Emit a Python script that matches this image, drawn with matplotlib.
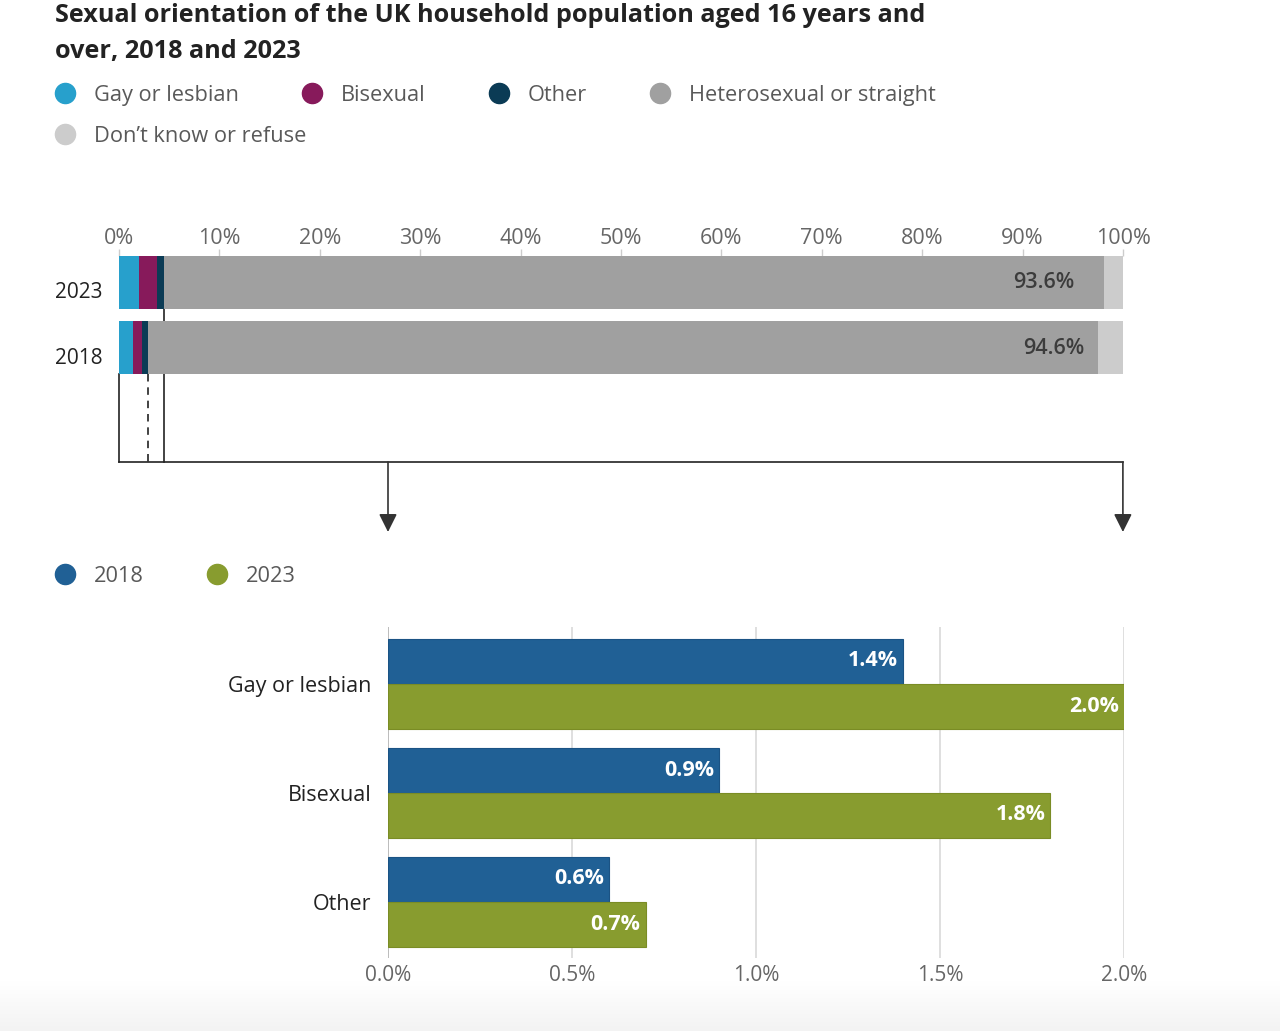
import numpy as np
import matplotlib
matplotlib.use("Agg")
import matplotlib.pyplot as plt
from matplotlib.lines import Line2D
from matplotlib.transforms import blended_transform_factory, ScaledTranslation

plt.rcParams['font.family'] = ['Open Sans', 'DejaVu Sans']

# ---------------- data ----------------
title = "Sexual orientation of the UK household population aged 16 years and\nover, 2018 and 2023"
stack_years = ["2023", "2018"]
orient_cats = ["Gay or lesbian", "Bisexual", "Other", "Heterosexual or straight", "Don\u2019t know or refuse"]
gay = [2.0, 1.4]
bisexual = [1.8, 0.9]
other = [0.7, 0.6]
hetero = [93.6, 94.6]
dont_know = [1.9, 2.5]
top_ticks = [0, 10, 20, 30, 40, 50, 60, 70, 80, 90, 100]

detail_cats = ["Gay or lesbian", "Bisexual", "Other"]
vals_2018 = [1.4, 0.9, 0.6]
vals_2023 = [2.0, 1.8, 0.7]
detail_ticks = [0.0, 0.5, 1.0, 1.5, 2.0]

orient_colors = ["#27a0cc", "#871a5b", "#0b3b55", "#a0a0a0", "#cccccc"]
c2018 = "#206095"
c2023 = "#889c2f"

W, H = 1280, 1031
fig = plt.figure(figsize=(W / 100, H / 100), dpi=100)

def fx(x):
    return x / W

def fy(y):
    return 1 - y / H

# bottom gradient strip
gax = fig.add_axes([0, 0, 1, 50 / H])
grad = np.linspace(0, 1, 60).reshape(-1, 1)
gax.imshow(grad, aspect='auto',
           cmap=matplotlib.colors.LinearSegmentedColormap.from_list('g', ['#ffffff', '#f3f3f3']),
           extent=[0, 1, 0, 1])
gax.axis('off')

# title
lines = title.split("\n")
fig.text(fx(55), fy(15), lines[0], fontsize=18.2, fontweight='bold', color='#222222', va='center', ha='left')
fig.text(fx(55), fy(52), lines[1], fontsize=18.2, fontweight='bold', color='#222222', va='center', ha='left')

renderer = fig.canvas.get_renderer()

def legend_rows(rows, x0, ys, gap=73, txt_off=29):
    for row, y in zip(rows, ys):
        x = x0
        for label, color in row:
            fig.add_artist(Line2D([fx(x)], [fy(y)], marker='o', ms=14.5, color=color, lw=0,
                                  transform=fig.transFigure))
            t = fig.text(fx(x + txt_off), fy(y), label, fontsize=15.7, color='#595959',
                         va='center_baseline', ha='left')
            bb = t.get_window_extent(renderer)
            x = x + txt_off + bb.width + gap

items = list(zip(orient_cats, orient_colors))
legend_rows([items[:4], items[4:]], 65, [93, 134])

# ---------------- top stacked chart ----------------
ax1 = fig.add_axes([fx(119), fy(462), (1123 - 119) / W, (462 - 256) / H])
pitch = 65.0
bh = 53 / pitch
ypos = np.arange(len(stack_years))
top_edge = -bh / 2
ax1.set_ylim(top_edge + (462 - 256) / pitch, top_edge)
ax1.set_xlim(0, 100)

left = np.zeros(len(stack_years))
for series, color in zip([gay, bisexual, other, hetero, dont_know], orient_colors):
    ax1.barh(ypos, series, left=left, height=bh, color=color, zorder=3, linewidth=0)
    left = left + np.array(series)

for i, v in enumerate(hetero):
    ax1.annotate(f"{v}%", xy=(v, ypos[i]), xytext=(16, 2), textcoords='offset pixels',
                 ha='right', va='center_baseline', fontsize=15.5, fontweight='semibold',
                 color='#3c3c3c', zorder=5)

for s in ax1.spines.values():
    s.set_visible(False)
ax1.xaxis.tick_top()
ax1.set_xticks(top_ticks)
ax1.set_xticklabels([f"{t}%" for t in top_ticks])
ax1.tick_params(axis='x', length=5, width=1, color='#cccccc', labelsize=15.5, labelcolor='#666666', pad=0)
ax1.set_yticks(ypos)
ax1.set_yticklabels(stack_years)
ax1.tick_params(axis='y', length=0, labelsize=15, labelcolor='#222222', pad=12)
for lab in ax1.get_yticklabels():
    lab.set_transform(lab.get_transform() + ScaledTranslation(0, -8 / 100, fig.dpi_scale_trans))
ax1.set_facecolor('none')

# connector box
line_kw = dict(color='#222222', lw=1.2, zorder=2, clip_on=False)
ybot = ax1.get_ylim()[0]
sum2023 = gay[0] + bisexual[0] + other[0]
sum2018 = gay[1] + bisexual[1] + other[1]
ax1.plot([0, 0], [ypos[1] + bh / 2, ybot], **line_kw)
ax1.plot([sum2023, sum2023], [ypos[0] + bh / 2, ybot], **line_kw)
ax1.plot([sum2018, sum2018], [ypos[1] + bh / 2, ybot], color='#222222', lw=1.2, zorder=2,
         clip_on=False, linestyle=(0, (4.5, 3.5)))
ax1.plot([0, 100], [ybot, ybot], **line_kw)

# ---------------- bottom detail chart ----------------
ax2 = fig.add_axes([fx(388), fy(958), (1124 - 388) / W, (958 - 627) / H])
gp = 109.0
ax2.set_xlim(0, 2.0)
ax2.set_ylim(2 + 56 / gp, -57 / gp)
yc = np.arange(len(detail_cats))
off = 22.5 / gp
bh2 = 44.5 / gp
ax2.barh(yc - off, vals_2018, height=bh2, color=c2018, edgecolor='#1b5384', linewidth=0.8, zorder=3)
ax2.barh(yc + off, vals_2023, height=bh2, color=c2023, edgecolor='#7a8c25', linewidth=0.8, zorder=3)
for i in range(len(detail_cats)):
    for v, yy in ((vals_2018[i], yc[i] - off), (vals_2023[i], yc[i] + off)):
        ax2.annotate(f"{v:.1f}%", xy=(v, yy), xytext=(-5, 3), textcoords='offset pixels',
                     ha='right', va='center_baseline', fontsize=15.5, fontweight='bold',
                     color='white', zorder=5)

for s in ax2.spines.values():
    s.set_visible(False)
ax2.set_xticks(detail_ticks)
ax2.set_xticklabels([f"{t:.1f}%" for t in detail_ticks])
ax2.tick_params(axis='x', length=0, labelsize=15, labelcolor='#666666', pad=5)
for t in detail_ticks:
    ax2.axvline(t, color='#b0b0b0' if t == 0 else '#d9d9d9', lw=1.2, zorder=1)
ax2.set_yticks(yc)
ax2.set_yticklabels(detail_cats)
ax2.tick_params(axis='y', length=0, labelsize=15.5, labelcolor='#222222', pad=12)

# arrows from box to detail chart extent
trA = blended_transform_factory(ax2.transData, ax1.transAxes)
trB = blended_transform_factory(ax2.transData, fig.transFigure)
for xv in (ax2.get_xlim()[0], ax2.get_xlim()[1]):
    xa = xv - (0.003 if xv > 0 else 0)
    ax2.annotate('', xy=(xa, fy(532)), xycoords=trB,
                 xytext=(xa, 0), textcoords=trA,
                 arrowprops=dict(arrowstyle='-|>,head_length=1.1,head_width=0.55', color='#333333',
                                 lw=1.2, shrinkA=0, shrinkB=0),
                 annotation_clip=False)

# bottom legend
legend_rows([[("2018", c2018), ("2023", c2023)]], 65, [574])

fig.savefig("out.png", dpi=100, facecolor='white')
